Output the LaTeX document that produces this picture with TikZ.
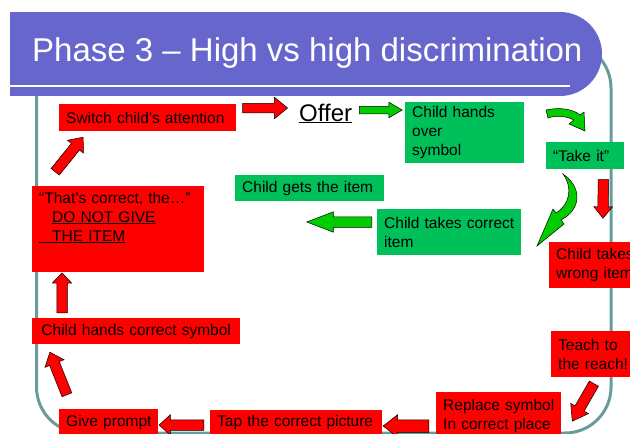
\documentclass[tikz,border=0pt]{standalone}
\usepackage{fontspec}
\setmainfont{Liberation Sans}
\usetikzlibrary{shapes.arrows,calc}

\definecolor{bannerblue}{RGB}{102,102,204}
\definecolor{frameteal}{RGB}{104,156,156}
\definecolor{boxgreen}{RGB}{0,192,90}
\definecolor{arrowgreen}{RGB}{0,204,0}

\newcommand{\boxfont}{\fontsize{15.5}{19}\selectfont}
\newcommand{\ulbox}[2][1pt]{\mbox{\setbox0=\hbox{#2}\rlap{\rule[-2pt]{\wd0}{#1}}\box0}}
% block arrow node from tail to tip
\newcommand{\blockarrow}[4]{%
  \path let \p1=($(#4)-(#3)$), \n1={atan2(\y1,\x1)}, \n2={veclen(\x1,\y1)} in
    node[#2, minimum height=\n2, anchor=tail, rotate=\n1] (#1) at (#3) {};}

\tikzset{
  redbox/.style={fill=red, anchor=north west, inner xsep=7pt, inner ysep=0pt, align=left, font=\boxfont},
  greenbox/.style={redbox, fill=boxgreen},
  redarrow/.style={single arrow, draw=black, line width=0.5pt, fill=red, inner xsep=0pt, inner ysep=5pt,
    minimum width=0pt, single arrow head extend=5pt, single arrow tip angle=80},
  greenarrow/.style={redarrow, fill=arrowgreen},
  curvedgreen/.style={draw=black, line width=0.5pt, fill=arrowgreen},
}

\begin{document}
\begin{tikzpicture}[x=1pt, y=-1pt]
  \useasboundingbox (0,0) rectangle (630,434);

  % FRAME AND TITLE
  \draw[frameteal, line width=3pt, rounded corners=46pt] (36.5,42) rectangle (611,433);
  \fill[fill=bannerblue] (10,12) rectangle (560,96);
  \fill[fill=bannerblue] (560,54) circle (42pt);
  \draw[white, line width=2pt] (10,86)--(570,86);
  \node[anchor=base west, text=white, inner sep=0pt, font=\fontsize{33}{40}\selectfont] (t0) at (32,61) {Phase 3 – High vs high discrimination};

  % DRAW BOXES
  \node[redbox, text width=163pt, minimum height=27pt] (b0) at (59,104) {Switch child’s attention};
  \node[anchor=base west, inner sep=0pt, font=\fontsize{24}{28}\selectfont] (b1) at (299,121) {\ulbox[1.5pt]{Offer}};
  \node[greenbox, text width=105pt, minimum height=61pt] (b2) at (405,102) {Child hands\\over\\symbol};
  \node[greenbox, text width=64pt, minimum height=27pt] (b3) at (546,142) {“Take it”};
  \node[redbox, text width=86pt, minimum height=46pt] (b4) at (549,242) {\mbox{Child takes}\\\mbox{wrong item}};
  \node[redbox, text width=81pt, minimum height=46pt] (b5) at (551,331) {\mbox{Teach to}\\\mbox{the reach!}};
  \node[redbox, text width=111pt, minimum height=48pt] (b6) at (436,392) {\mbox{Replace symbol}\\\mbox{In correct place}};
  \node[redbox, text width=158pt, minimum height=24pt] (b7) at (210,410) {\mbox{Tap the correct picture}};
  \node[redbox, text width=85pt, minimum height=26pt] (b8) at (59,409) {\mbox{Give prompt}};
  \node[redbox, text width=194pt, minimum height=26pt, align=center] (b9) at (32,318) {Child hands correct symbol};
  \node[redbox, text width=158pt, inner ysep=6pt] (b10) at (32,186)
    {\mbox{“That’s correct, the…”}\\\hspace*{13pt}\ulbox{DO NOT GIVE}\\\ulbox{\hspace*{13pt}THE ITEM}\\[5.5pt]\mbox{}};
  \node[greenbox, text width=130pt, minimum height=46pt] (b11) at (377,209) {\mbox{Child takes correct}\\item};
  \node[greenbox, text width=135pt, minimum height=26pt] (b12) at (235,175) {\mbox{Child gets the item}};

  % DRAW ARROWS
  \coordinate (a0s) at ($(b0.north east)+(6,4)$);
  \coordinate (a0e) at ($(b0.north east)+(51,4)$);
  \blockarrow{a0}{redarrow, inner ysep=4.5pt, single arrow head extend=6pt, single arrow tip angle=78}{a0s}{a0e}
  \coordinate (a1s) at ($(b2.north west)+(-46,8)$);
  \coordinate (a1e) at ($(b2.north west)+(-3,8)$);
  \blockarrow{a1}{greenarrow, inner ysep=3.5pt, single arrow head extend=4pt, single arrow tip angle=60}{a1s}{a1e}
  \coordinate (a2s) at ($(b3.south east)+(-21,10)$);
  \coordinate (a2e) at ($(b4.north west)+(54,-24)$);
  \blockarrow{a2}{redarrow, single arrow head extend=4pt, single arrow tip angle=78}{a2s}{a2e}
  \coordinate (a3s) at ($(b11.north west)+(-5,13)$);
  \coordinate (a3e) at ($(b11.north west)+(-70,13)$);
  \blockarrow{a3}{greenarrow, single arrow tip angle=42}{a3s}{a3e}
  \coordinate (a4s) at ($(b10.north west)+(23,-14)$);
  \coordinate (a4e) at ($(b0.south west)+(24,6)$);
  \blockarrow{a4}{redarrow}{a4s}{a4e}
  \coordinate (a5s) at ($(b9.north west)+(30,-5)$);
  \coordinate (a5e) at ($(b10.south west)+(30,1)$);
  \blockarrow{a5}{redarrow, single arrow head extend=4.5pt, single arrow tip angle=87}{a5s}{a5e}
  \coordinate (a6s) at ($(b8.north west)+(8,-14)$);
  \coordinate (a6e) at ($(b9.south west)+(18,8)$);
  \blockarrow{a6}{redarrow}{a6s}{a6e}
  \coordinate (a7s) at ($(b7.north west)+(-6,15)$);
  \coordinate (a7e) at ($(b8.north east)+(1,16)$);
  \blockarrow{a7}{redarrow, single arrow tip angle=85}{a7s}{a7e}
  \coordinate (a8s) at ($(b6.north west)+(-7,34)$);
  \coordinate (a8e) at ($(b7.north east)+(1,16)$);
  \blockarrow{a8}{redarrow, inner ysep=6pt, single arrow tip angle=76}{a8s}{a8e}
  \coordinate (a9s) at ($(b5.south west)+(43,6)$);
  \coordinate (a9e) at ($(b6.north east)+(11,29)$);
  \blockarrow{a9}{redarrow, single arrow tip angle=70}{a9s}{a9e}

  % CURVED ARROWS
  \draw[curvedgreen] (546,110) .. controls (560,107) and (573,109) .. (580,115) -- (584,112) -- (585,131)
    -- (569,124) -- (574,120) .. controls (566,116) and (556,115) .. (548,118) -- cycle;
  \draw[curvedgreen] (563,174) .. controls (582,187) and (582,209) .. (561,220) -- (564,224) -- (537,246)
    -- (553,209) -- (556,213) .. controls (570,204) and (573,188) .. (563,174) -- cycle;
\end{tikzpicture}
\end{document}
